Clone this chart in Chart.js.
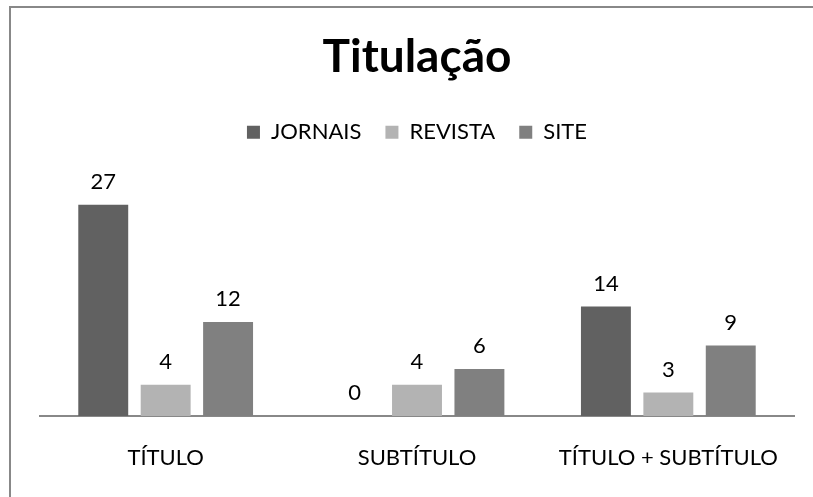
<!DOCTYPE html>
<html>
<head>
<meta charset="utf-8">
<script src="https://cdn.jsdelivr.net/npm/chart.js@4"></script>
<style>
  body { margin: 0; background: #fff; overflow: hidden; }
  #wrap { position: relative; width: 813px; height: 497px; }
  #frame { position: absolute; left: 9px; top: 6px; width: 900px; height: 600px; border: 2px solid #888; }
  canvas { position: absolute; left: 0; top: 0; }
</style>
</head>
<body>
<div id="wrap">
  <div id="frame"></div>
  <canvas id="chart" width="813" height="497"></canvas>
</div>
<script>
// Data
const categories = ["TÍTULO", "SUBTÍTULO", "TÍTULO + SUBTÍTULO"];
const jornais = [27, 0, 14];
const revista = [4, 4, 3];
const site = [12, 6, 9];

// Draw value labels above each bar
const valueLabels = {
  id: "valueLabels",
  afterDatasetsDraw(chart) {
    const ctx = chart.ctx;
    ctx.save();
    ctx.font = "22px Lato";
    ctx.fillStyle = "#000";
    ctx.textAlign = "center";
    ctx.textBaseline = "bottom";
    chart.data.datasets.forEach((ds, i) => {
      chart.getDatasetMeta(i).data.forEach((bar, j) => {
        ctx.fillText(ds.data[j], bar.x, bar.y - 12);
      });
    });
    ctx.restore();
  }
};

// Extra room under the legend
const legendGap = {
  id: "legendGap",
  beforeInit(chart) {
    const fit = chart.legend.fit;
    chart.legend.fit = function () {
      fit.bind(chart.legend)();
      this.height += 28;
    };
  }
};

new Chart(document.getElementById("chart"), {
  type: "bar",
  data: {
    labels: categories,
    datasets: [
      { label: "JORNAIS", data: jornais, backgroundColor: "#616161" },
      { label: "REVISTA", data: revista, backgroundColor: "#b3b3b3" },
      { label: "SITE", data: site, backgroundColor: "#808080" }
    ]
  },
  options: {
    responsive: false,
    animation: false,
    layout: { padding: { left: 40, right: 19, top: 16, bottom: 0 } },
    datasets: { bar: { categoryPercentage: 0.745, barPercentage: 0.8 } },
    scales: {
      x: {
        grid: { display: false, drawTicks: false },
        border: { display: true, color: "#888", width: 2 },
        ticks: { color: "#000", font: { family: "Lato", size: 22 }, padding: 29 },
        afterFit(scale) { scale.height = 81; }
      },
      y: { display: false, min: 0, max: 30 }
    },
    plugins: {
      title: {
        display: true,
        text: "Titulação",
        color: "#000",
        font: { family: "Lato", size: 46, weight: "bold" },
        padding: { top: 14, bottom: 12 }
      },
      legend: {
        labels: {
          color: "#000",
          font: { family: "Lato", size: 22 },
          boxWidth: 13,
          boxHeight: 13,
          padding: 24
        }
      },
      tooltip: { enabled: false }
    }
  },
  plugins: [valueLabels, legendGap]
});
</script>
</body>
</html>
